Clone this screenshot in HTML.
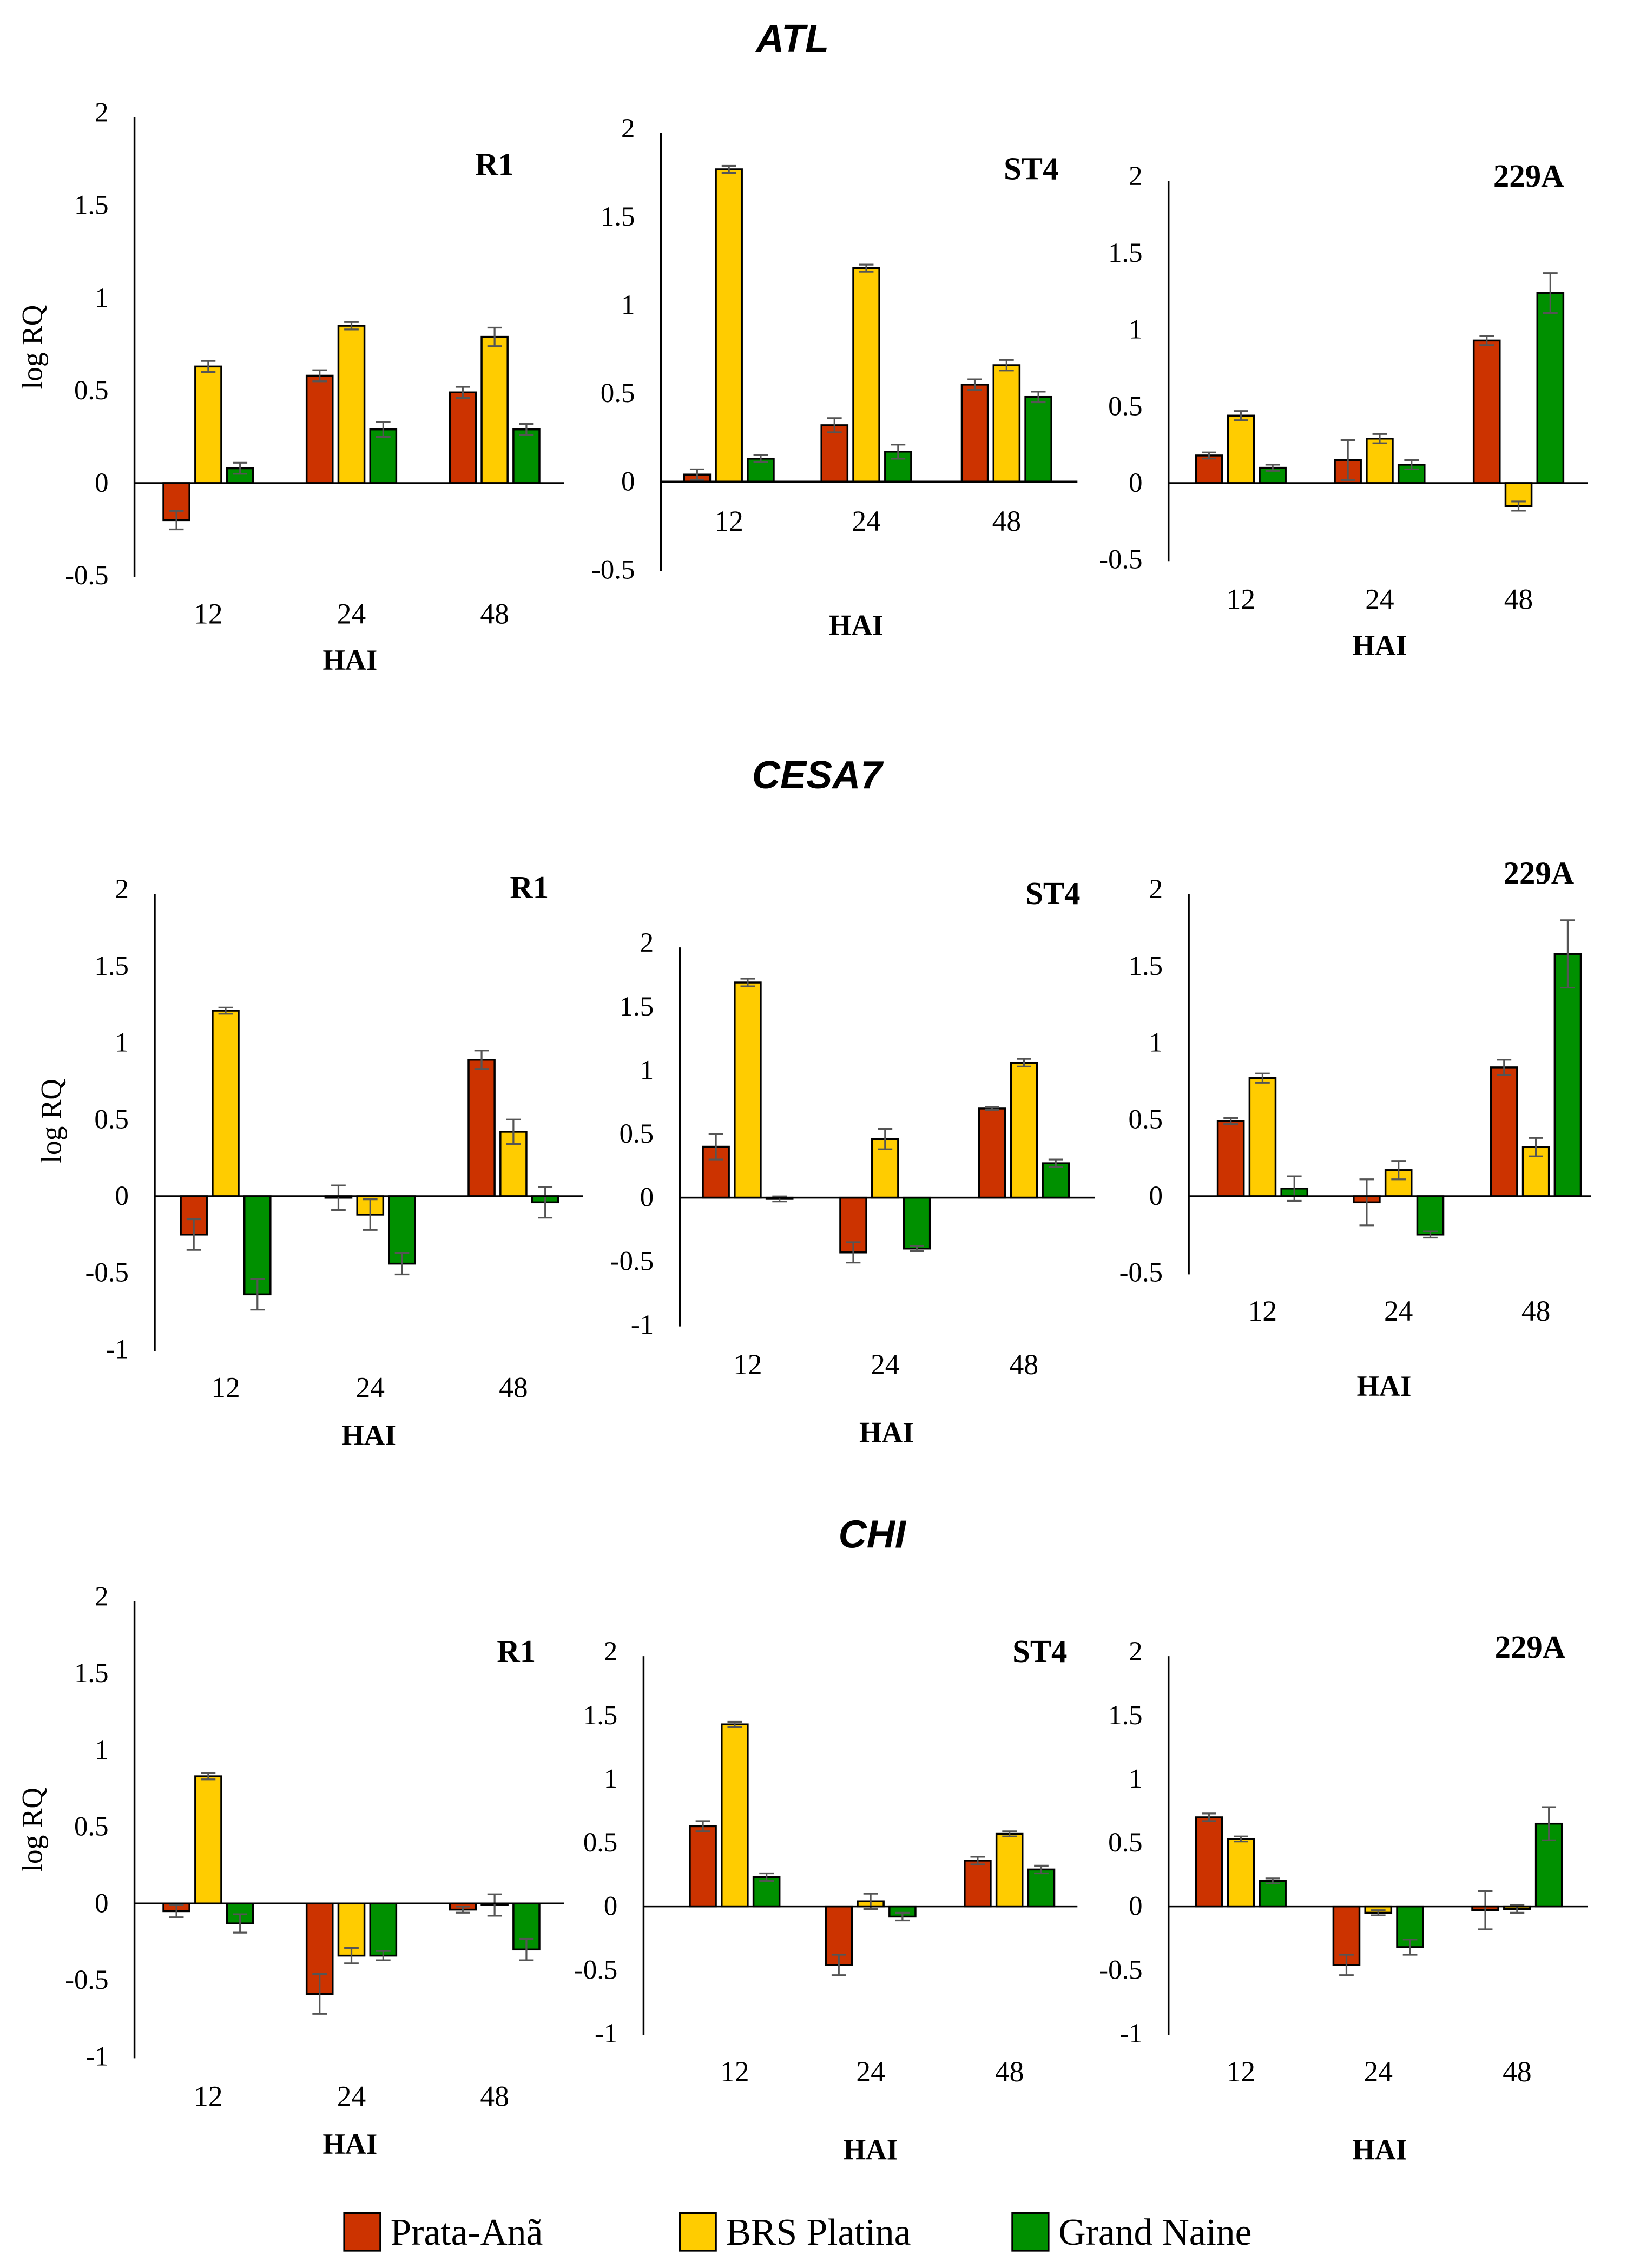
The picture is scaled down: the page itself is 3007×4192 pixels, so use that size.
<!DOCTYPE html>
<html><head><meta charset="utf-8"><style>
html,body{margin:0;padding:0;background:#fff}
svg{display:block}
text{font-family:"Liberation Serif",serif;fill:#000}
</style></head><body>
<svg id="chart" width="3007" height="4192" viewBox="0 0 1125 1568" preserveAspectRatio="none" xmlns="http://www.w3.org/2000/svg">
<g id="root"></g>
</svg>
<script>
// ---- data ----
const timepoints = ["12","24","48"];
const cultivars = ["Prata-Anã","BRS Platina","Grand Naine"];
const genes = ["ATL","CESA7","CHI"];
const isolates = ["R1","ST4","229A"];
// values ordered: R1(12,24,48), ST4(12,24,48), 229A(12,24,48)
const atlPrata   = [-0.20,0.58,0.49, 0.04,0.32,0.55, 0.18,0.15,0.93];
const atlPlatina = [0.63,0.85,0.79, 1.77,1.21,0.66, 0.44,0.29,-0.15];
const atlGrand   = [0.08,0.29,0.29, 0.13,0.17,0.48, 0.10,0.12,1.24];
const atlPrataErr   = [0.05,0.03,0.03, 0.03,0.04,0.03, 0.02,0.13,0.03];
const atlPlatinaErr = [0.03,0.02,0.05, 0.02,0.02,0.03, 0.03,0.03,0.03];
const atlGrandErr   = [0.03,0.04,0.03, 0.02,0.04,0.03, 0.02,0.03,0.13];
const cesPrata   = [-0.25,-0.01,0.89, 0.40,-0.43,0.70, 0.49,-0.04,0.84];
const cesPlatina = [1.21,-0.12,0.42, 1.69,0.46,1.06, 0.77,0.17,0.32];
const cesGrand   = [-0.64,-0.44,-0.04, -0.01,-0.40,0.27, 0.05,-0.25,1.58];
const cesPrataErr   = [0.10,0.08,0.06, 0.10,0.08,0.01, 0.02,0.15,0.05];
const cesPlatinaErr = [0.02,0.10,0.08, 0.03,0.08,0.03, 0.03,0.06,0.06];
const cesGrandErr   = [0.10,0.07,0.10, 0.02,0.02,0.03, 0.08,0.02,0.22];
const chiPrata   = [-0.05,-0.59,-0.04, 0.63,-0.46,0.36, 0.70,-0.46,-0.03];
const chiPlatina = [0.83,-0.34,-0.01, 1.43,0.04,0.57, 0.53,-0.05,-0.02];
const chiGrand   = [-0.13,-0.34,-0.30, 0.23,-0.08,0.29, 0.20,-0.32,0.65];
const chiPrataErr   = [0.04,0.13,0.02, 0.04,0.08,0.03, 0.03,0.08,0.15];
const chiPlatinaErr = [0.02,0.05,0.07, 0.02,0.06,0.02, 0.02,0.02,0.03];
const chiGrandErr   = [0.06,0.03,0.07, 0.03,0.03,0.03, 0.02,0.06,0.13];
const geneValues = [[atlPrata,atlPlatina,atlGrand],[cesPrata,cesPlatina,cesGrand],[chiPrata,chiPlatina,chiGrand]];
const geneErrors = [[atlPrataErr,atlPlatinaErr,atlGrandErr],[cesPrataErr,cesPlatinaErr,cesGrandErr],[chiPrataErr,chiPlatinaErr,chiGrandErr]];
const yMins = [[-0.5,-0.5,-0.5],[-1,-1,-0.5],[-1,-1,-1]];
const yMax = 2;

// ---- layout (pixel geometry, not data) ----
const colors = ["#cc3300","#ffcc00","#009000"];
const geneTitleXY = [[548,27],[565,536],[603,1061]];
const layout = [
 [ {ax:93,zero:334,unit:128,xEnd:390,gx:[144,243,342],ly:424,hx:242,hy:456,tx:342,ty:113,yl:[22,240]},
   {ax:457,zero:333,unit:122,xEnd:745,gx:[504,599,696],ly:360,hx:592,hy:432,tx:713,ty:116},
   {ax:808,zero:334,unit:106,xEnd:1098,gx:[858,954,1050],ly:414,hx:954,hy:446,tx:1057,ty:121} ],
 [ {ax:107,zero:827,unit:106,xEnd:403,gx:[156,256,355],ly:959,hx:255,hy:992,tx:366,ty:613,yl:[35,775]},
   {ax:470,zero:828,unit:88,xEnd:757,gx:[517,612,708],ly:943,hx:613,hy:990,tx:728,ty:617},
   {ax:822,zero:827,unit:106,xEnd:1100,gx:[873,967,1062],ly:906,hx:957,hy:958,tx:1064,ty:603} ],
 [ {ax:93,zero:1316,unit:106,xEnd:390,gx:[144,243,342],ly:1449,hx:242,hy:1482,tx:357,ty:1141,yl:[22,1265]},
   {ax:445,zero:1318,unit:88,xEnd:745,gx:[508,602,698],ly:1432,hx:602,hy:1486,tx:719,ty:1141},
   {ax:808,zero:1318,unit:88,xEnd:1098,gx:[858,953,1049],ly:1432,hx:954,hy:1486,tx:1058,ty:1138} ]
];
const NS="http://www.w3.org/2000/svg";
const root=document.getElementById('root');
function mk(tag,attrs,parent){const e=document.createElementNS(NS,tag);for(const k in attrs)e.setAttribute(k,attrs[k]);(parent||root).appendChild(e);return e;}

genes.forEach((gene,gi)=>{
  const gt=mk('text',{x:geneTitleXY[gi][0],y:geneTitleXY[gi][1]+9,'text-anchor':'middle','font-size':27,'font-weight':'bold','font-style':'italic',style:'font-family:"Liberation Sans",sans-serif'});
  
  
  gt.textContent=gene;
  isolates.forEach((iso,pi)=>{
    const L=layout[gi][pi];
    const g=mk('g',{});
    
    
    const ymin=yMins[gi][pi];
    const yS=v=>L.zero-v*L.unit;
    const yaxis=mk('line',{x1:L.ax,x2:L.ax,y1:yS(yMax)+3,y2:yS(ymin)+1,stroke:'#000','stroke-width':1.3},g);
    
    
    for(let v=ymin;v<=yMax+1e-9;v+=0.5){
      const t=mk('text',{x:L.ax-18,y:yS(v)+6,'text-anchor':'end','font-size':19},g);
      
      
      t.textContent=String(Math.round(v*10)/10);
    }
    for(let c=0;c<3;c++){
      for(let t=0;t<3;t++){
        const v=geneValues[gi][c][pi*3+t], e=geneErrors[gi][c][pi*3+t];
        const cx=L.gx[t]+(c-1)*22;
        const y1=yS(Math.max(v,0)), y2=yS(Math.min(v,0));
        const r=mk('rect',{x:cx-9,y:y1,width:18,height:Math.max(y2-y1,0.5),fill:colors[c],stroke:'#000','stroke-width':1.3},g);
        
        
        const ea=yS(v+e), eb=yS(v-e);
        const eg=mk('path',{d:`M${cx},${ea}V${eb}M${cx-5},${ea}H${cx+5}M${cx-5},${eb}H${cx+5}`,stroke:'#555','stroke-width':1.2,fill:'none'},g);
        
        
      }
    }
    const xaxis=mk('line',{x1:L.ax,x2:L.xEnd,y1:L.zero,y2:L.zero,stroke:'#000','stroke-width':1.3},g);
    
    
    timepoints.forEach((tp,t)=>{
      const tl=mk('text',{x:L.gx[t],y:L.ly+7,'text-anchor':'middle','font-size':20},g);
      
      
      tl.textContent=tp;
    });
    const hai=mk('text',{x:L.hx,y:L.hy+7,'text-anchor':'middle','font-size':20,'font-weight':'bold'},g);
    
    
    hai.textContent='HAI';
    const pt=mk('text',{x:L.tx,y:L.ty+8,'text-anchor':'middle','font-size':22,'font-weight':'bold'},g);
    
    
    pt.textContent=iso;
    if(L.yl){
      const yl=mk('text',{x:0,y:0,'text-anchor':'middle','font-size':20,transform:`translate(${L.yl[0]+7},${L.yl[1]}) rotate(-90)`},g);
      
      
      yl.textContent='log RQ';
    }
  });
});
const legX=[238,470,700];
const leg=mk('g',{});


cultivars.forEach((c,i)=>{
  const sw=mk('rect',{x:legX[i],y:1530,width:25,height:26,fill:colors[i],stroke:'#000','stroke-width':1.3},leg);
  
  
  const lt=mk('text',{x:legX[i]+32,y:1552,'font-size':26},leg);
  
  
  lt.textContent=c;
});
</script>
</body></html>
